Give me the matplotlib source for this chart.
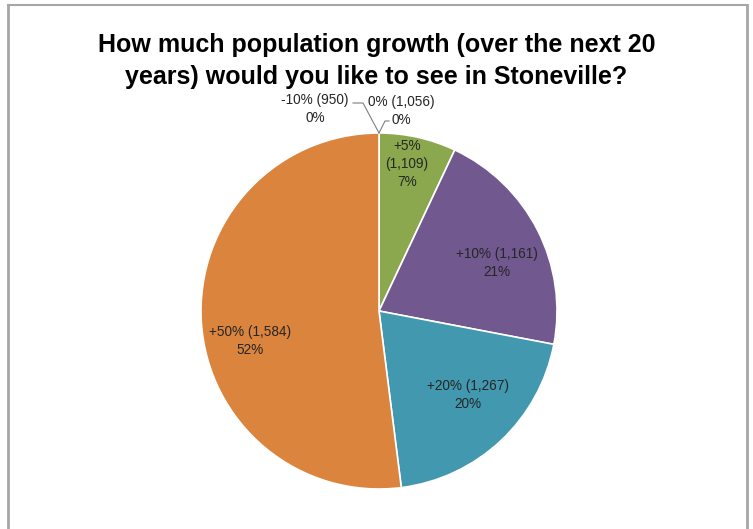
import numpy as np
import matplotlib
matplotlib.use("Agg")
import matplotlib.pyplot as plt
from matplotlib.lines import Line2D

# 数据：增长选项、人数、百分比
categories = ["-10% (950)", "0% (1,056)", "+5%\n(1,109)", "+10% (1,161)", "+20% (1,267)", "+50% (1,584)"]
shares = [0, 0, 7, 21, 20, 52]
pct_labels = ["0%", "0%", "7%", "21%", "20%", "52%"]
colors = ["#4F81BD", "#C0504D", "#8BA84F", "#71588F", "#4198AF", "#DB843D"]

W, H = 753, 529
fig = plt.figure(figsize=(W / 100, H / 100), dpi=100)

# 饼图圆心和半径（像素）
cx, cy, r = 379, 311, 178
ax = fig.add_axes([(cx - r) / W, (H - cy - r) / H, 2 * r / W, 2 * r / H])

def px(x, y):
    # 像素坐标 -> 数据坐标
    return (x - cx) / r, (cy - y) / r

wedges, _ = ax.pie(shares, colors=colors, startangle=90, counterclock=False,
                   radius=1, wedgeprops=dict(edgecolor="white", linewidth=1.2))
ax.set_xlim(-1, 1)
ax.set_ylim(-1, 1)
ax.set_aspect("equal")
ax.axis("off")

font = ["Liberation Sans", "DejaVu Sans"]
lbl_color = "#262626"
fs = 9.8

# 非零扇区的标签位置
inside_pos = {2: (407, 164), 3: (497, 263), 4: (468, 395), 5: (250, 341)}
for i, (x, y) in inside_pos.items():
    dx, dy = px(x, y)
    ax.text(dx, dy, categories[i] + "\n" + pct_labels[i], ha="center", va="center",
            fontsize=fs, family=font, color=lbl_color, linespacing=1.35)

# 两个 0% 扇区的标签和引线
top = px(379, 133)
ax.text(*px(315, 109), categories[0] + "\n" + pct_labels[0], ha="center", va="center",
        fontsize=fs, family=font, color=lbl_color, linespacing=1.35)
ax.text(*px(401, 111), categories[1] + "\n" + pct_labels[1], ha="center", va="center",
        fontsize=fs, family=font, color=lbl_color, linespacing=1.35)
p1, p2 = px(363, 103), px(353, 103)
ax.plot([top[0], p1[0], p2[0]], [top[1], p1[1], p2[1]], color="#7f7f7f", lw=0.8, clip_on=False)
q1, q2 = px(385, 121), px(389, 121)
ax.plot([top[0], q1[0], q2[0]], [top[1], q1[1], q2[1]], color="#7f7f7f", lw=0.8, clip_on=False)

fig.text(0.5, (H - 61) / H, "How much population growth (over the next 20\nyears) would you like to see in Stoneville?",
         ha="center", va="center", fontsize=18, fontweight="bold", family=font,
         color="black", linespacing=1.45)

# 外框
gray = "#a6a6a6"
fig.add_artist(Line2D([8 / W, 8 / W], [0, 1 - 5 / H], color=gray, lw=2, transform=fig.transFigure))
fig.add_artist(Line2D([8 / W, 747 / W], [1 - 5 / H, 1 - 5 / H], color=gray, lw=1.5, transform=fig.transFigure))
fig.add_artist(Line2D([747 / W, 747 / W], [0, 1 - 5 / H], color=gray, lw=2, transform=fig.transFigure))

fig.savefig("out.png", dpi=100)
